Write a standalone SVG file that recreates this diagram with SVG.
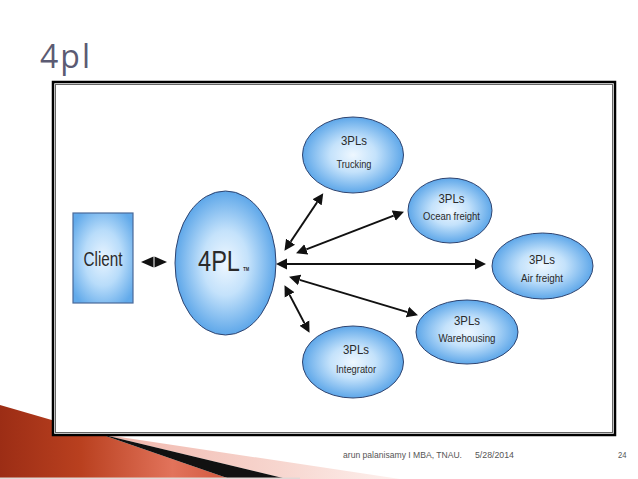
<svg xmlns="http://www.w3.org/2000/svg" width="638" height="479" viewBox="0 0 638 479">
  <defs>
    <radialGradient id="gBall" cx="50%" cy="50%" r="50%">
      <stop offset="0" stop-color="#eef7ff"/>
      <stop offset="0.45" stop-color="#c4e2fb"/>
      <stop offset="1" stop-color="#5ea7e9"/>
    </radialGradient>
    <radialGradient id="gBox" cx="50%" cy="50%" r="62%">
      <stop offset="0" stop-color="#e8f4ff"/>
      <stop offset="0.5" stop-color="#b8dcfa"/>
      <stop offset="1" stop-color="#62aaea"/>
    </radialGradient>
    <linearGradient id="gRed" x1="0" y1="0" x2="230" y2="0" gradientUnits="userSpaceOnUse">
      <stop offset="0" stop-color="#9c2d15"/>
      <stop offset="0.35" stop-color="#b9401f"/>
      <stop offset="0.75" stop-color="#e2735b"/>
      <stop offset="1" stop-color="#d0573d"/>
    </linearGradient>
    <linearGradient id="gPink" x1="100" y1="0" x2="400" y2="0" gradientUnits="userSpaceOnUse">
      <stop offset="0" stop-color="#f0b5aa"/>
      <stop offset="0.6" stop-color="#f7d6cf"/>
      <stop offset="1" stop-color="#fdf1ee"/>
    </linearGradient>
    <marker id="ah" viewBox="0 -6 12 12" refX="0" refY="0" markerWidth="12" markerHeight="12" markerUnits="userSpaceOnUse" orient="auto-start-reverse">
      <path d="M0,-5.5 L11,0 L0,5.5 z" fill="#111"/>
    </marker>
    <style>
      .ball { fill: url(#gBall); stroke: #2f4470; stroke-width: 1; }
      .lbl { font-family: 'Liberation Sans', Arial, sans-serif; fill: #2a2a2a; text-anchor: middle; }
      .big { font-size: 13px; }
      .sub { font-size: 11.5px; }
      .conn { stroke: #111; stroke-width: 2; fill: none; marker-start: url(#ah); marker-end: url(#ah); }
      .foot { font-family: 'Liberation Sans', Arial, sans-serif; fill: #555; font-size: 9px; }
    </style>
  </defs>

  <rect x="0" y="0" width="638" height="479" fill="#ffffff"/>

  <!-- title -->
  <text x="40" y="68" font-family="'Open Sans', 'DejaVu Sans', sans-serif" font-size="32" letter-spacing="2" fill="#5b5b73">4pl</text>

  <!-- bottom-left decoration -->
  <g id="decoration">
    <polygon points="100,434 400,479 287,479" fill="url(#gPink)"/>
    <polygon points="0,405 100,434 230,479 0,479" fill="url(#gRed)"/>
    <polygon points="100,434 287,479 230,479" fill="#111"/>
    <rect x="0" y="477.5" width="300" height="1.5" fill="#e2d8d6"/>
  </g>

  <!-- frame -->
  <g id="frame">
    <rect x="53" y="82" width="562" height="353" fill="#ffffff" stroke="#000" stroke-width="2.5"/>
    <rect x="55.5" y="84.5" width="557" height="348" fill="none" stroke="#666" stroke-width="1"/>
  </g>

  <!-- connectors -->
  <g id="connectors">
    <line class="conn" x1="290.6" y1="241.7" x2="317.1" y2="202.3"/>
    <line class="conn" x1="306.3" y1="249.4" x2="393.7" y2="215.6"/>
    <line class="conn" x1="287" y1="264" x2="475" y2="264"/>
    <line class="conn" x1="299.6" y1="279.9" x2="407.4" y2="312.1"/>
    <line class="conn" x1="289.6" y1="294.9" x2="304.4" y2="323.1"/>
    <polygon points="141,262 153.5,256.5 153.5,267.5" fill="#111"/>
    <polygon points="167,262 154.5,256.5 154.5,267.5" fill="#111"/>
  </g>

  <g id="client">
    <rect x="73" y="213" width="60" height="90" fill="url(#gBox)" stroke="#4a6a9a" stroke-width="1.2"/>
    <text class="lbl" x="103" y="266" font-size="20" textLength="39" lengthAdjust="spacingAndGlyphs">Client</text>
  </g>

  <g id="fourpl">
    <ellipse class="ball" cx="225.5" cy="263" rx="50.5" ry="72"/>
    <text transform="translate(198,271) scale(0.814,1)" x="0" y="0" font-family="'Liberation Sans', Arial, sans-serif" font-size="29" fill="#2a2a2a">4PL<tspan dx="4" font-size="5" font-weight="bold">TM</tspan></text>
  </g>

  <g id="trucking">
    <ellipse class="ball" cx="353" cy="155" rx="50.5" ry="38"/>
    <text class="lbl big" x="354" y="145" textLength="26" lengthAdjust="spacingAndGlyphs">3PLs</text>
    <text class="lbl sub" x="354" y="168" textLength="35" lengthAdjust="spacingAndGlyphs">Trucking</text>
  </g>

  <g id="ocean">
    <ellipse class="ball" cx="450" cy="210.5" rx="42" ry="32.5"/>
    <text class="lbl big" x="451.5" y="203" textLength="26" lengthAdjust="spacingAndGlyphs">3PLs</text>
    <text class="lbl sub" x="451.5" y="219.5" textLength="57" lengthAdjust="spacingAndGlyphs">Ocean freight</text>
  </g>

  <g id="air">
    <ellipse class="ball" cx="542.5" cy="266" rx="50.5" ry="33"/>
    <text class="lbl big" x="542" y="264" textLength="26" lengthAdjust="spacingAndGlyphs">3PLs</text>
    <text class="lbl sub" x="542" y="281.5" textLength="42" lengthAdjust="spacingAndGlyphs">Air freight</text>
  </g>

  <g id="warehousing">
    <ellipse class="ball" cx="467" cy="332" rx="51" ry="32"/>
    <text class="lbl big" x="467" y="325" textLength="26" lengthAdjust="spacingAndGlyphs">3PLs</text>
    <text class="lbl sub" x="467" y="342" textLength="57" lengthAdjust="spacingAndGlyphs">Warehousing</text>
  </g>

  <g id="integrator">
    <ellipse class="ball" cx="353" cy="362" rx="50.5" ry="36"/>
    <text class="lbl big" x="356" y="354" textLength="26" lengthAdjust="spacingAndGlyphs">3PLs</text>
    <text class="lbl sub" x="356" y="373" textLength="40" lengthAdjust="spacingAndGlyphs">Integrator</text>
  </g>

  <!-- footer -->
  <g id="footer">
    <text class="foot" x="343" y="458" textLength="119" lengthAdjust="spacingAndGlyphs">arun palanisamy I MBA, TNAU.</text>
    <text class="foot" x="475" y="458" textLength="39" lengthAdjust="spacingAndGlyphs">5/28/2014</text>
    <text class="foot" x="618" y="458" textLength="8.5" lengthAdjust="spacingAndGlyphs">24</text>
  </g>
</svg>
